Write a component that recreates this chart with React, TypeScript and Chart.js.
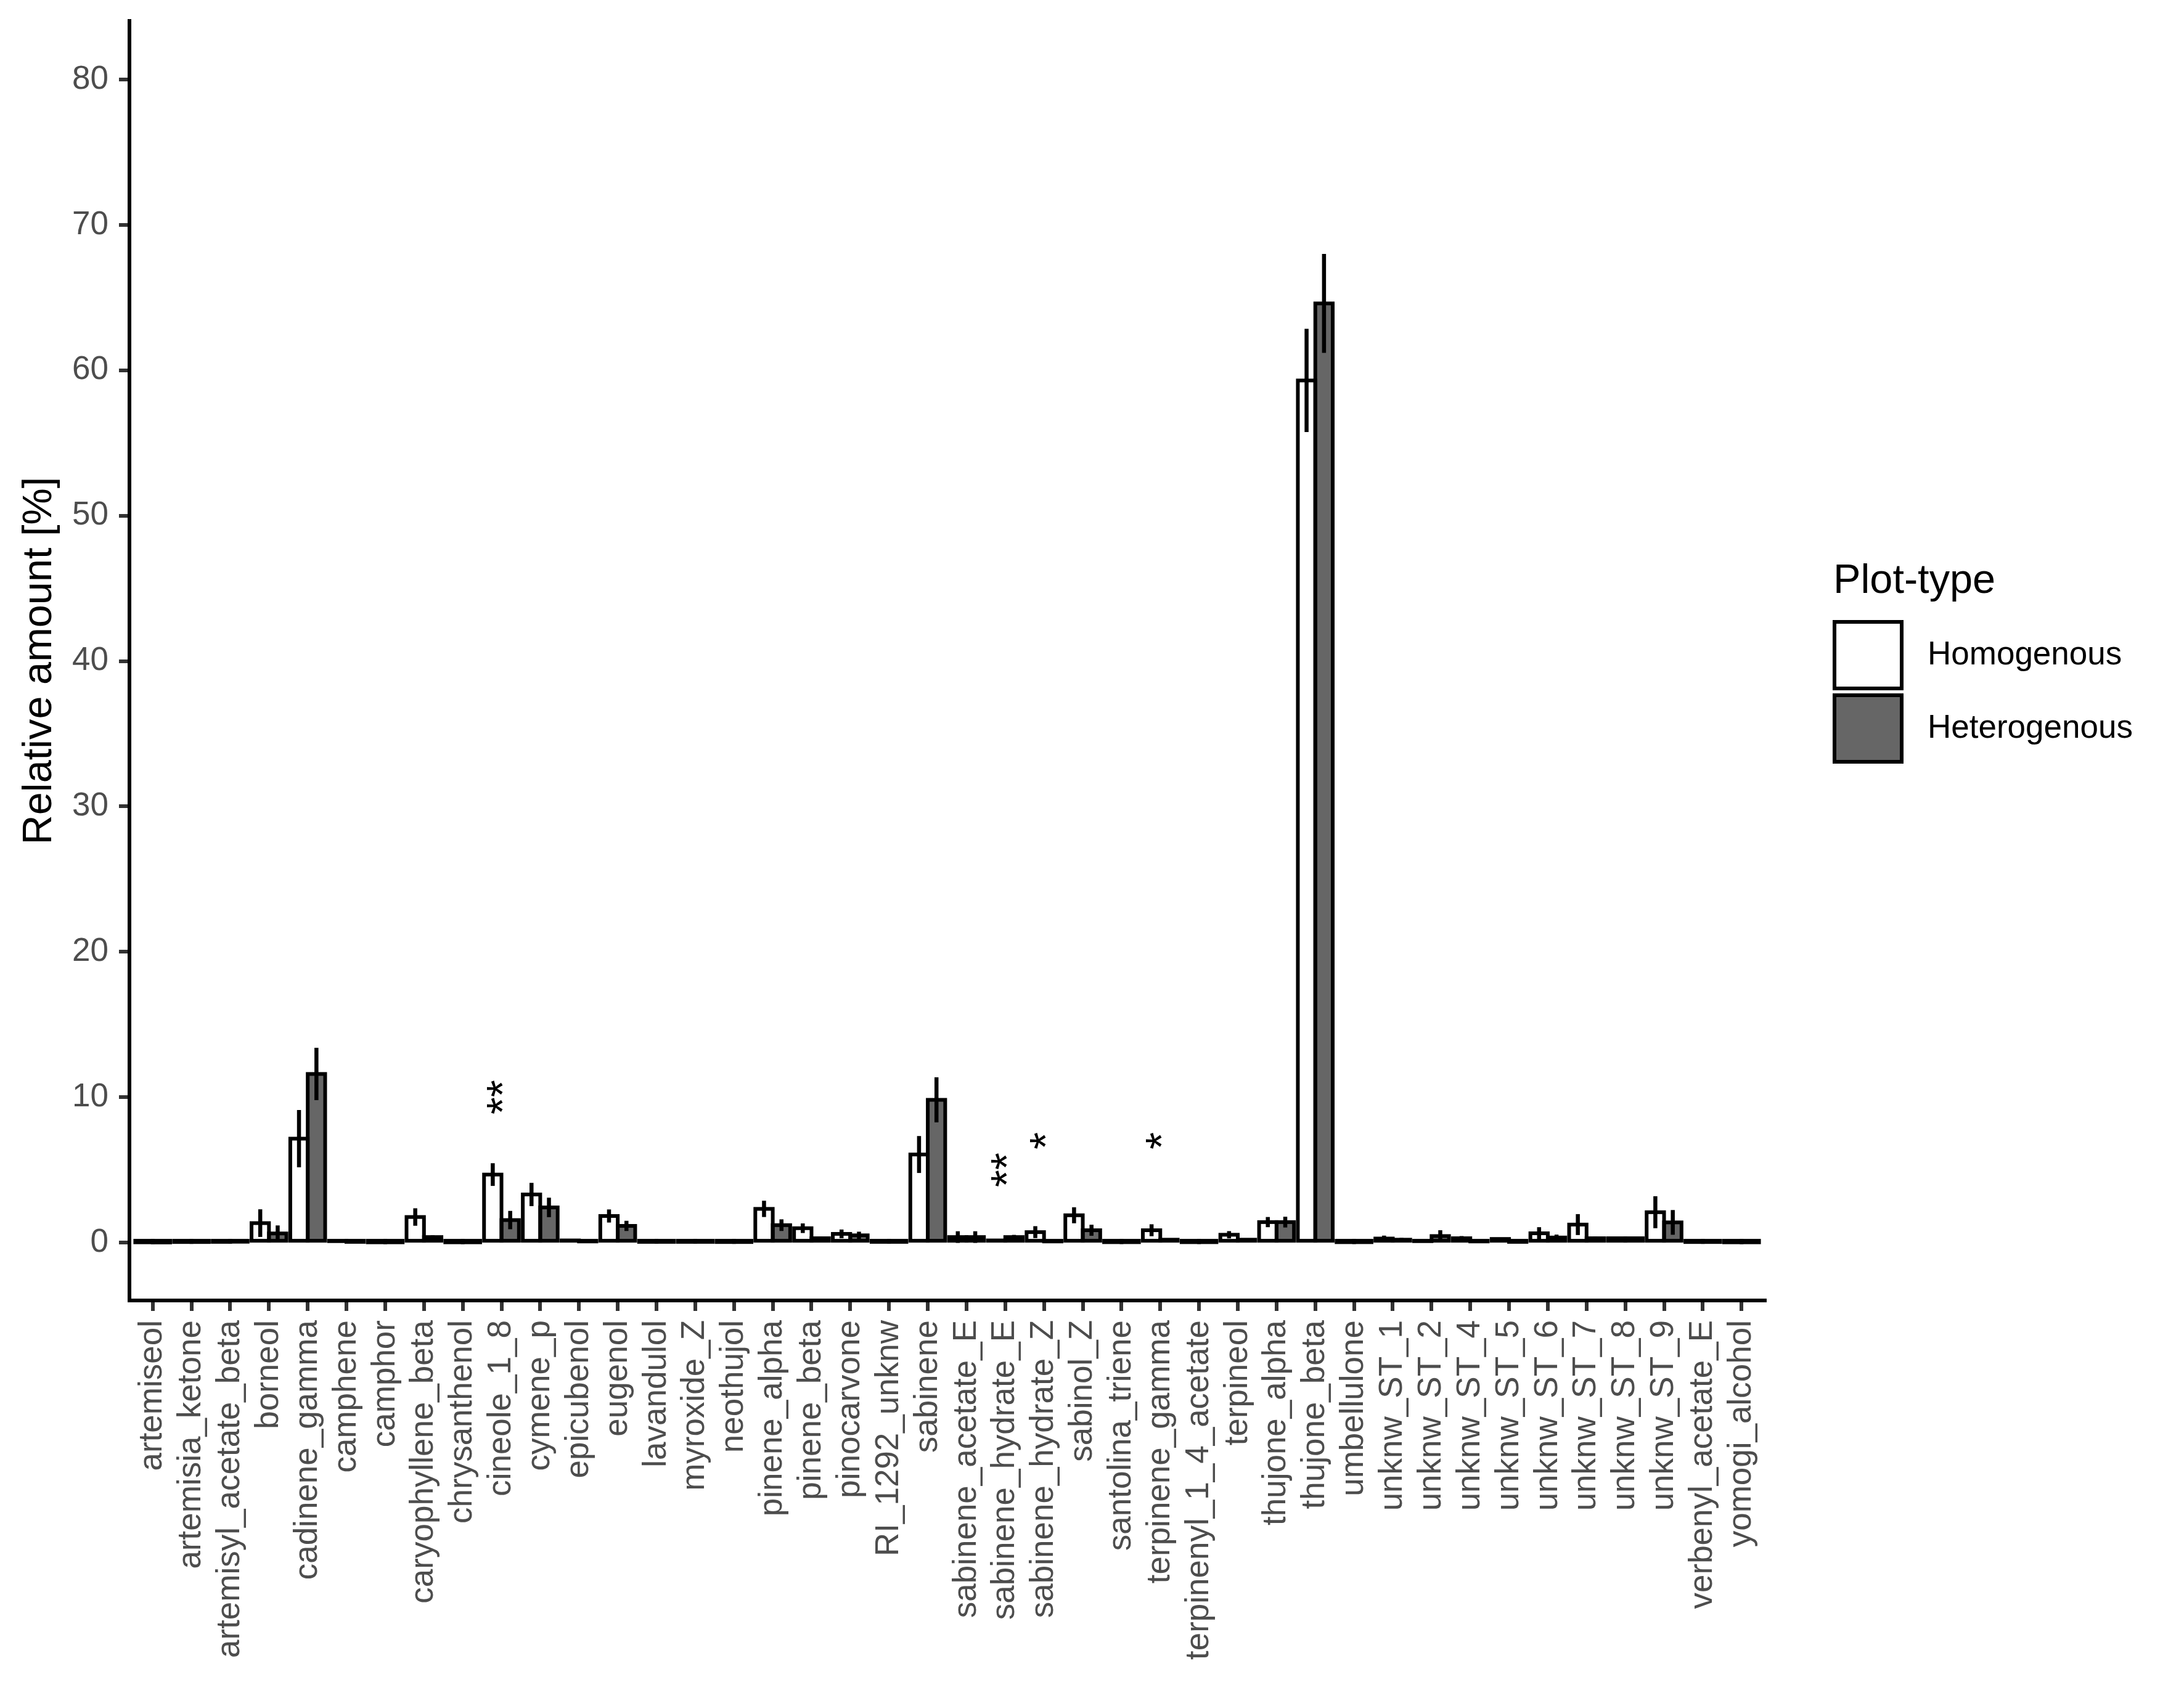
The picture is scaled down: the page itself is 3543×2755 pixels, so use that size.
import React, { useEffect, useRef } from 'react';
import { Chart, registerables } from 'chart.js';

Chart.register(...registerables);

const categories = [
  'artemiseol', 'artemisia_ketone', 'artemisyl_acetate_beta', 'borneol', 'cadinene_gamma',
  'camphene', 'camphor', 'caryophyllene_beta', 'chrysanthenol', 'cineole_1_8',
  'cymene_p', 'epicubenol', 'eugenol', 'lavandulol', 'myroxide_Z',
  'neothujol', 'pinene_alpha', 'pinene_beta', 'pinocarvone', 'RI_1292_unknw',
  'sabinene', 'sabinene_acetate_E', 'sabinene_hydrate_E', 'sabinene_hydrate_Z', 'sabinol_Z',
  'santolina_triene', 'terpinene_gamma', 'terpinenyl_1_4_acetate', 'terpineol', 'thujone_alpha',
  'thujone_beta', 'umbellulone', 'unknw_ST_1', 'unknw_ST_2', 'unknw_ST_4',
  'unknw_ST_5', 'unknw_ST_6', 'unknw_ST_7', 'unknw_ST_8', 'unknw_ST_9',
  'verbenyl_acetate_E', 'yomogi_alcohol',
];

const homogenousMean = [
  0.02, 0.04, 0.05, 1.34, 7.15,
  0.10, 0.02, 1.76, 0.02, 4.68,
  3.31, 0.15, 1.83, 0.05, 0.05,
  0.04, 2.32, 0.99, 0.60, 0.05,
  6.06, 0.38, 0.15, 0.72, 1.88,
  0.03, 0.85, 0.03, 0.54, 1.41,
  59.3, 0.03, 0.28, 0.10, 0.30,
  0.25, 0.64, 1.24, 0.30, 2.09,
  0.04, 0.02,
];
const homogenousSE = [
  0.01, 0.02, 0.02, 0.95, 1.97,
  0.03, 0.01, 0.60, 0.01, 0.78,
  0.80, 0.05, 0.45, 0.02, 0.02,
  0.02, 0.56, 0.33, 0.30, 0.02,
  1.27, 0.40, 0.05, 0.41, 0.55,
  0.01, 0.41, 0.01, 0.25, 0.35,
  3.55, 0.01, 0.20, 0.05, 0.15,
  0.08, 0.42, 0.72, 0.08, 1.10,
  0.01, 0.01,
];
const heterogenousMean = [
  0.01, 0.04, 0.06, 0.63, 11.6,
  0.05, 0.02, 0.38, 0.02, 1.55,
  2.42, 0.08, 1.15, 0.05, 0.05,
  0.04, 1.20, 0.30, 0.50, 0.05,
  9.82, 0.38, 0.38, 0.08, 0.85,
  0.03, 0.20, 0.03, 0.20, 1.41,
  64.6, 0.03, 0.20, 0.45, 0.08,
  0.05, 0.35, 0.30, 0.30, 1.39,
  0.04, 0.02,
];
const heterogenousSE = [
  0.01, 0.02, 0.02, 0.55, 1.80,
  0.02, 0.01, 0.12, 0.01, 0.63,
  0.67, 0.03, 0.35, 0.02, 0.02,
  0.02, 0.40, 0.10, 0.25, 0.02,
  1.55, 0.40, 0.15, 0.03, 0.38,
  0.01, 0.10, 0.01, 0.08, 0.37,
  3.40, 0.01, 0.12, 0.40, 0.04,
  0.02, 0.20, 0.12, 0.08, 0.85,
  0.01, 0.01,
];

const seriesNames = ['Homogenous', 'Heterogenous'];
const seriesColors = ['#FFFFFF', '#666666'];
const yTicks = [0, 10, 20, 30, 40, 50, 60, 70, 80];
const yTitle = 'Relative amount [%]';
const legendTitle = 'Plot-type';

const sigCategories = ['cineole_1_8', 'sabinene_hydrate_E', 'sabinene_hydrate_Z', 'terpinene_gamma'];
const sigLabels = ['**', '**', '*', '*'];
const sigY = [10, 5, 7, 7];

const FONT = '"Liberation Sans", Arial, Helvetica, sans-serif';
const errors = [homogenousSE, heterogenousSE];

const ggPlugin = {
  id: 'ggLayers',
  afterDatasetsDraw(chart: any) {
    const ctx = chart.ctx;
    const ys = chart.scales.y;
    const xs = chart.scales.x;
    ctx.save();
    // bar outlines, centred on the edges as ggplot does
    chart.data.datasets.forEach((ds: any, di: number) => {
      const meta = chart.getDatasetMeta(di);
      meta.data.forEach((el: any) => {
        const p = el.getProps(['x', 'y', 'base', 'width'], true);
        const top = Math.min(p.y, p.base);
        const h = Math.max(Math.abs(p.base - p.y), 0.5);
        ctx.lineWidth = 6;
        ctx.lineJoin = 'miter';
        ctx.strokeStyle = '#000000';
        ctx.strokeRect(p.x - p.width / 2, top, p.width, h);
      });
    });
    // error bars
    chart.data.datasets.forEach((ds: any, di: number) => {
      const meta = chart.getDatasetMeta(di);
      const se = errors[di];
      meta.data.forEach((el: any, i: number) => {
        const p = el.getProps(['x'], true);
        const m = ds.data[i].y;
        const y1 = ys.getPixelForValue(m - se[i]);
        const y2 = ys.getPixelForValue(m + se[i]);
        ctx.beginPath();
        ctx.lineWidth = 6.5;
        ctx.lineCap = 'butt';
        ctx.strokeStyle = '#000000';
        ctx.moveTo(p.x, y1);
        ctx.lineTo(p.x, y2);
        ctx.stroke();
      });
    });
    // significance stars
    sigCategories.forEach((c, k) => {
      const idx = categories.indexOf(c);
      const px = xs.getPixelForValue(idx);
      const py = ys.getPixelForValue(sigY[k]);
      ctx.save();
      ctx.translate(px + 7, py);
      ctx.rotate(-Math.PI / 2);
      ctx.fillStyle = '#000000';
      ctx.font = `72px ${FONT}`;
      ctx.textAlign = 'center';
      ctx.textBaseline = 'middle';
      ctx.fillText(sigLabels[k], 0, 0);
      ctx.restore();
    });
    ctx.restore();
  },
  afterDraw(chart: any) {
    const ctx = chart.ctx;
    const left = chart.chartArea.right + 111;
    ctx.save();
    ctx.fillStyle = '#000000';
    ctx.font = `66.7px ${FONT}`;
    ctx.textAlign = 'left';
    ctx.textBaseline = 'alphabetic';
    ctx.fillText(legendTitle, left, 962);
    chart.data.datasets.forEach((ds: any, i: number) => {
      const top = 1009 + i * 119;
      ctx.fillStyle = ds.backgroundColor;
      ctx.fillRect(left + 2, top, 109, 108);
      ctx.lineWidth = 6;
      ctx.lineJoin = 'miter';
      ctx.strokeStyle = '#000000';
      ctx.strokeRect(left + 2, top, 109, 108);
      ctx.fillStyle = '#000000';
      ctx.font = `53px ${FONT}`;
      ctx.textBaseline = 'middle';
      ctx.fillText(ds.label, left + 153, top + 54);
    });
    ctx.restore();
  },
};

export default function App() {
  const canvasRef = useRef<HTMLCanvasElement | null>(null);

  useEffect(() => {
    if (!canvasRef.current) return;
    Chart.defaults.font.family = FONT;
    const chart = new Chart(canvasRef.current, {
      type: 'bar',
      data: {
        datasets: [
          {
            label: seriesNames[0],
            data: categories.map((_, i) => ({ x: i, y: homogenousMean[i] })),
            backgroundColor: seriesColors[0],
            borderWidth: 0,
          },
          {
            label: seriesNames[1],
            data: categories.map((_, i) => ({ x: i, y: heterogenousMean[i] })),
            backgroundColor: seriesColors[1],
            borderWidth: 0,
          },
        ],
      },
      options: {
        responsive: false,
        animation: false,
        events: [],
        layout: { padding: { left: 0, top: 34, right: 680, bottom: 0 } },
        datasets: { bar: { categoryPercentage: 0.9, barPercentage: 1.0, grouped: true } },
        plugins: { legend: { display: false }, tooltip: { enabled: false }, title: { display: false } },
        scales: {
          x: {
            type: 'linear',
            min: -0.6,
            max: 41.6,
            offset: false,
            afterBuildTicks: (s: any) => {
              s.ticks = categories.map((_, i) => ({ value: i }));
            },
            afterFit: (s: any) => {
              s.height = 645;
              s.paddingLeft = 0;
              s.paddingRight = 0;
              s.paddingTop = 0;
              s.paddingBottom = 0;
            },
            ticks: {
              autoSkip: false,
              minRotation: 90,
              maxRotation: 90,
              padding: 15,
              color: '#4D4D4D',
              font: { size: 53, family: FONT },
              callback: (v: any) => categories[Math.round(Number(v))] ?? '',
            },
            grid: { drawOnChartArea: false, drawTicks: true, tickLength: 17, lineWidth: 6, color: '#333333', offset: false },
            border: { display: true, color: '#000000', width: 6 },
          },
          y: {
            type: 'linear',
            min: -3.98,
            max: 84.03,
            afterBuildTicks: (s: any) => {
              s.ticks = yTicks.map((v) => ({ value: v }));
            },
            afterFit: (s: any) => {
              s.width = 210;
              s.paddingTop = 0;
              s.paddingBottom = 0;
              s.paddingLeft = 0;
              s.paddingRight = 0;
            },
            ticks: { padding: 17, color: '#4D4D4D', font: { size: 53, family: FONT } },
            grid: { drawOnChartArea: false, drawTicks: true, tickLength: 17, lineWidth: 6, color: '#333333' },
            border: { display: true, color: '#000000', width: 6 },
            title: {
              display: true,
              text: yTitle,
              color: '#000000',
              font: { size: 66.7, family: FONT },
              padding: { top: 25, bottom: 0 },
            },
          },
        },
      },
      plugins: [ggPlugin],
    } as any);
    return () => chart.destroy();
  }, []);

  return (
    <div style={{ position: 'absolute', left: 0, top: 0, width: 3543, height: 2755, background: '#FFFFFF' }}>
      <canvas ref={canvasRef} width={3543} height={2755} style={{ display: 'block', width: 3543, height: 2755 }} />
    </div>
  );
}
